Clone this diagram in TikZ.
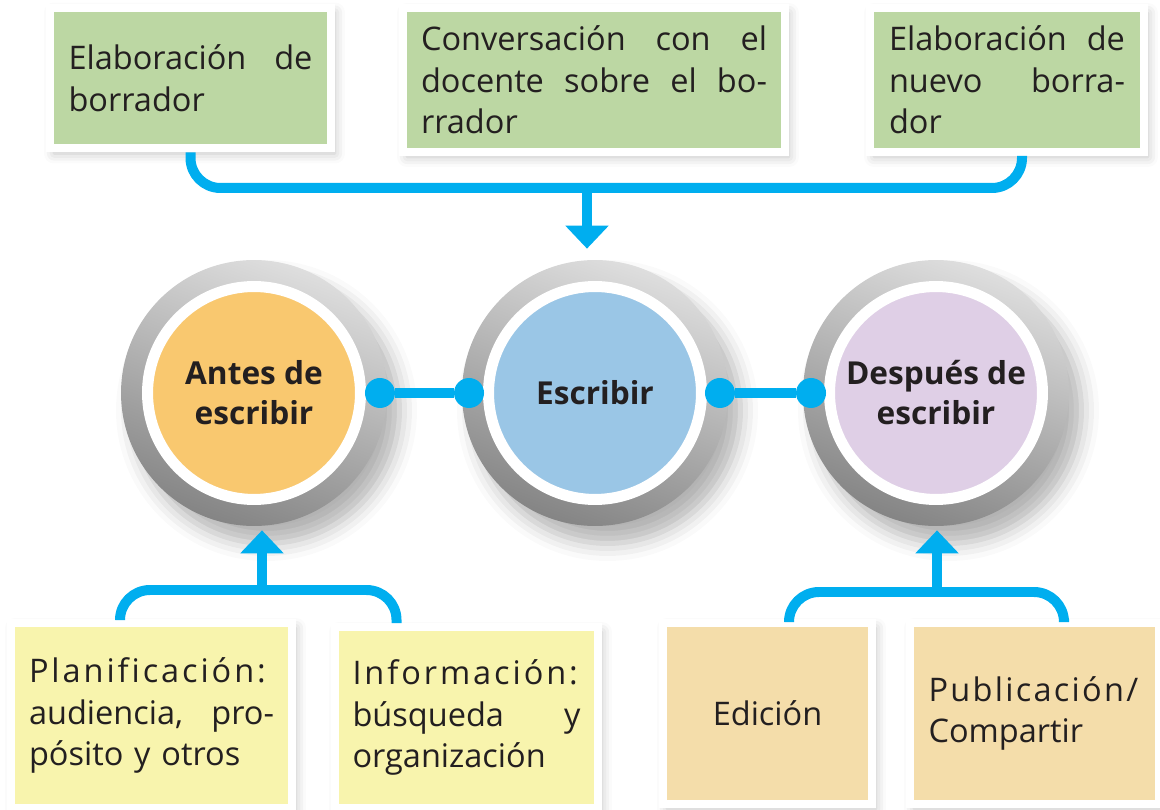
\documentclass[tikz,border=0pt]{standalone}
\usepackage{fontspec}
\setmainfont{Open Sans}[Ligatures=CommonOff]
\usetikzlibrary{arrows.meta,shadows.blur}

\definecolor{celesteLinea}{HTML}{00AEEF}
\definecolor{verde}{HTML}{BCD7A3}
\definecolor{amarillo}{HTML}{F8F4AD}
\definecolor{arena}{HTML}{F4DDAA}
\definecolor{naranja}{HTML}{F9C86F}
\definecolor{celeste}{HTML}{9AC6E6}
\definecolor{lila}{HTML}{DFCFE6}
\definecolor{tinta}{HTML}{231F20}

% letras espaciadas
\newcommand\espaciado[2]{{\addfontfeature{LetterSpace=#1}#2}}

\tikzset{
	caja/.style={draw=white, line width=0.16cm, inner sep=0pt, text=tinta,
		blur shadow={shadow xshift=0.08cm, shadow yshift=-0.1cm, shadow blur radius=0.2cm, shadow opacity=25},
		font=\fontsize{18.5}{23.6}\selectfont, align=left},
	anillo/.style={circle, minimum size=5.32cm, inner sep=0pt,
		top color=black!13, bottom color=black!48, shading angle=-20,
		blur shadow={shadow xshift=0.25cm, shadow yshift=-0.35cm, shadow blur radius=0.35cm, shadow opacity=30}},
	disco/.style={circle, minimum size=4.26cm, inner sep=0pt, draw=white, line width=0.22cm,
		text=tinta, font=\bfseries\fontsize{18}{22.8}\selectfont, align=center},
	punto/.style={circle, fill=celesteLinea, minimum size=0.6cm, inner sep=0pt},
	enlace/.style={draw=celesteLinea, line width=0.2cm},
	llave/.style={draw=celesteLinea, line width=0.2cm, rounded corners=0.6cm},
	flecha/.style={draw=celesteLinea, line width=0.2cm, -{Triangle[width=0.84cm,length=0.46cm]}},
}

\begin{document}
\begin{tikzpicture}[x=0.02cm, y=-0.02cm]
\useasboundingbox (0,0) rectangle (1160,810);

% etapas
\foreach \n/\x/\c/\t in {antes/254/naranja/{Antes de\\escribir}, escr/595/celeste/{Escribir}, desp/936/lila/{Después de\\escribir}}{
	\node[anillo] (\n-r) at (\x,393) {};
	\node[disco, fill=\c] (\n) at (\x,393) {\t};
}

\node[punto] (d1) at ([xshift=0.28cm]antes.east) {};
\node[punto] (d2) at ([xshift=-0.28cm]escr.west) {};
\node[punto] (d3) at ([xshift=0.26cm]escr.east) {};
\node[punto] (d4) at ([xshift=-0.26cm]desp.west) {};
\draw[enlace] (d1) -- (d2);
\draw[enlace] (d3) -- (d4);

% cajas de arriba
\node[caja, fill=verde, minimum width=5.62cm, minimum height=2.82cm, text width=4.88cm] (b1) at (190.5,78)
	{Elaboración\hfill de\\borrador};
\node[caja, fill=verde, minimum width=7.64cm, minimum height=2.88cm, text width=6.92cm] (b2) at (594,80)
	{Conversación\hfill con\hfill el\\docente\hfill sobre\hfill el\hfill bo-\\rrador};
\node[caja, fill=verde, minimum width=5.48cm, minimum height=2.88cm, text width=4.72cm] (b3) at (1007,80)
	{Elaboración\hfill de\\nuevo\hfill borra-\\dor};

% cajas de abajo
\node[caja, fill=amarillo, minimum width=5.62cm, minimum height=3.70cm, text width=4.9cm] (p1) at (151.5,715.5)
	{\espaciado{9}{Planificación:}\\audiencia,\hfill pro-\\pósito y otros};
\node[caja, fill=amarillo, minimum width=5.26cm, minimum height=3.62cm, text width=4.56cm] (p2) at (466.5,717.5)
	{\espaciado{9}{Información:}\\búsqueda\hfill y\\organización};
\node[caja, fill=arena, minimum width=4.18cm, minimum height=3.62cm, align=center] (p3) at (767.5,713.5)
	{Edición};
\node[caja, fill=arena, minimum width=4.98cm, minimum height=3.62cm, text width=4.24cm] (p4) at (1034.5,713.5)
	{\espaciado{7}{Publicación/}\\Compartir};

% llaves y flechas
\coordinate (top) at (587,188);
\draw[llave] (b1.south) |- (top) -| ([xshift=0.3cm]b3.south);
\draw[flecha, shorten >=0.22cm] (top) -- (top |- escr-r.north);

\coordinate (bl) at (262,590);
\draw[llave] ([xshift=-0.63cm]p1.north) |- (bl) -| ([xshift=-1.4cm]p2.north);
\draw[flecha, shorten >=0.08cm] (bl) -- (bl |- antes-r.south);

\coordinate (br) at (937,592);
\draw[llave] ([xshift=0.43cm]p3.north) |- (br) -| ([xshift=0.59cm]p4.north);
\draw[flecha, shorten >=0.08cm] (br) -- (br |- desp-r.south);
\end{tikzpicture}
\end{document}
